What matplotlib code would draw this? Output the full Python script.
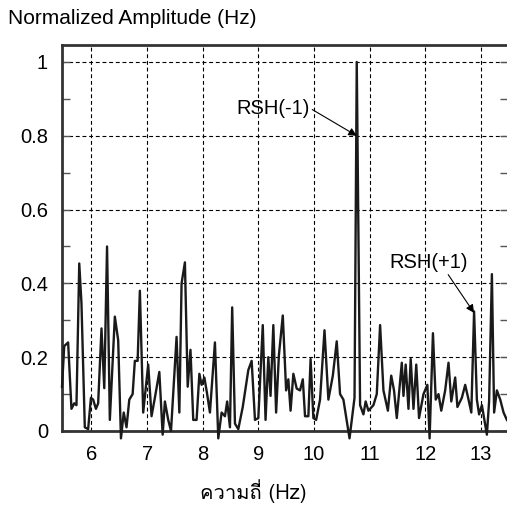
import matplotlib
matplotlib.use("Agg")
import matplotlib.pyplot as plt
from matplotlib import font_manager
from matplotlib.ft2font import FT2Font
from matplotlib.ticker import MultipleLocator

# spectre : frequence (Hz) et amplitude normalisee
freq = [5.47, 5.51, 5.58, 5.64, 5.69, 5.73, 5.78, 5.82, 5.88, 5.94, 5.99,
        6.03, 6.08, 6.12, 6.18, 6.23, 6.28, 6.33, 6.42, 6.48, 6.53, 6.58,
        6.63, 6.68, 6.74, 6.78, 6.83, 6.87, 6.93, 7.02, 7.08, 7.14, 7.22,
        7.28, 7.32, 7.38, 7.43, 7.53, 7.58, 7.62, 7.68, 7.73, 7.78, 7.83,
        7.89, 7.94, 7.98, 8.03, 8.08, 8.13, 8.22, 8.28, 8.34, 8.40, 8.44,
        8.49, 8.53, 8.58, 8.64, 8.72, 8.82, 8.88, 8.94, 9.00, 9.08, 9.13,
        9.18, 9.22, 9.27, 9.32, 9.37, 9.44, 9.50, 9.54, 9.58, 9.63, 9.69,
        9.75, 9.80, 9.84, 9.90, 9.94, 9.99, 10.04, 10.11, 10.19, 10.26,
        10.34, 10.41, 10.47, 10.53, 10.64, 10.73, 10.77, 10.83, 10.89,
        10.93, 10.98, 11.07, 11.13, 11.19, 11.25, 11.33, 11.39, 11.44,
        11.49, 11.58, 11.61, 11.65, 11.70, 11.74, 11.79, 11.84, 11.89,
        11.97, 12.04, 12.08, 12.14, 12.19, 12.24, 12.29, 12.36, 12.42,
        12.47, 12.54, 12.58, 12.66, 12.72, 12.78, 12.83, 12.88, 12.93,
        12.97, 13.02, 13.06, 13.11, 13.15, 13.20, 13.24, 13.29, 13.35,
        13.41, 13.47]
amp = [0.12, 0.23, 0.24, 0.06, 0.075, 0.07, 0.454, 0.346, 0.01, 0.005, 0.09,
       0.085, 0.06, 0.075, 0.278, 0.116, 0.50, 0.03, 0.31, 0.246, -0.02, 0.05,
       0.01, 0.085, 0.10, 0.19, 0.19, 0.38, 0.05, 0.18, 0.04, 0.09, 0.16,
       -0.01, 0.08, 0.03, 0.0, 0.255, 0.05, 0.40, 0.457, 0.12, 0.22, 0.03,
       0.03, 0.155, 0.125, 0.145, 0.10, 0.05, 0.24, -0.02, 0.05, 0.04, 0.08,
       0.01, 0.335, 0.02, 0.005, 0.065, 0.165, 0.19, 0.03, 0.035, 0.287, 0.03,
       0.20, 0.095, 0.287, 0.05, 0.205, 0.313, 0.11, 0.14, 0.055, 0.155,
       0.115, 0.11, 0.14, 0.04, 0.04, 0.195, 0.035, 0.03, 0.085, 0.273,
       0.085, 0.15, 0.243, 0.10, 0.085, -0.02, 0.09, 1.0, 0.07, 0.045,
       0.08, 0.055, 0.07, 0.10, 0.287, 0.11, 0.055, 0.15, 0.11,
       0.035, 0.185, 0.095, 0.18, 0.06, 0.195, 0.06, 0.18, 0.035,
       0.10, 0.125, -0.02, 0.265, 0.085, 0.10, 0.055, 0.11, 0.185,
       0.08, 0.145, 0.065, 0.09, 0.125, 0.085, 0.05, 0.324, 0.085,
       0.045, 0.07, 0.035, -0.01, 0.08, 0.425, 0.05, 0.11, 0.085,
       0.05, 0.03]

x_ticks = [6, 7, 8, 9, 10, 11, 12, 13]
y_ticks = [0, 0.2, 0.4, 0.6, 0.8, 1.0]
y_tick_labels = ["0", "0.2", "0.4", "0.6", "0.8", "1"]

peak_m1 = (10.77, 0.80)
peak_p1 = (12.88, 0.32)


def find_thai_font():
    # cherche une police installee qui contient les glyphes thai
    for f in font_manager.fontManager.ttflist:
        try:
            if 0x0E04 in FT2Font(f.fname).get_charmap():
                return f.name
        except Exception:
            continue
    return "DejaVu Sans"


plt.rcParams['font.family'] = ['Liberation Sans', 'DejaVu Sans']
thai_font = find_thai_font()

fig = plt.figure(figsize=(5.07, 5.08), dpi=100)
ax = fig.add_axes([0.1223, 0.1516, 0.8797, 0.7598])

ax.plot(freq, amp, color='#1a1a1a', lw=1.7, clip_on=False, zorder=3)

ax.set_xlim(5.47, 13.49)
ax.set_ylim(0, 1.046)
ax.set_xticks(x_ticks)
ax.set_yticks(y_ticks)
ax.set_yticklabels(y_tick_labels)
ax.yaxis.set_minor_locator(MultipleLocator(0.1))
ax.grid(True, color='k', lw=0.8, linestyle=(0, (3.5, 2.5)))
ax.tick_params(axis='both', which='both', direction='in', labelsize=14.5,
               length=6, color='#555555', width=1)
ax.tick_params(axis='y', which='both', right=True, pad=10)
ax.tick_params(axis='x', which='both', top=False, bottom=False, pad=10)

for s in ['left', 'bottom', 'top']:
    ax.spines[s].set_linewidth(2.0)
    ax.spines[s].set_color('#333333')
ax.spines['right'].set_visible(False)

ax.annotate("RSH(-1)", xy=peak_m1, xytext=(9.26, 0.873), ha='center', va='center',
            fontsize=14.5,
            arrowprops=dict(arrowstyle='-|>', color='k', lw=0.8, mutation_scale=12,
                            shrinkA=0, shrinkB=0, relpos=(1.0, 0.55)))
ax.annotate("RSH(+1)", xy=peak_p1, xytext=(12.07, 0.457), ha='center', va='center',
            fontsize=14.5,
            arrowprops=dict(arrowstyle='-|>', color='k', lw=0.8, mutation_scale=12,
                            shrinkA=0, shrinkB=0, relpos=(0.72, 0.0)))

fig.text(0.016, 0.964, "Normalized Amplitude (Hz)", fontsize=15, ha='left', va='center')
fig.text(0.5, 0.033, "ความถี่ (Hz)", fontsize=14.5, ha='center', va='center',
         family=[thai_font, 'Liberation Sans', 'DejaVu Sans'])

fig.savefig("out.png", dpi=100)
